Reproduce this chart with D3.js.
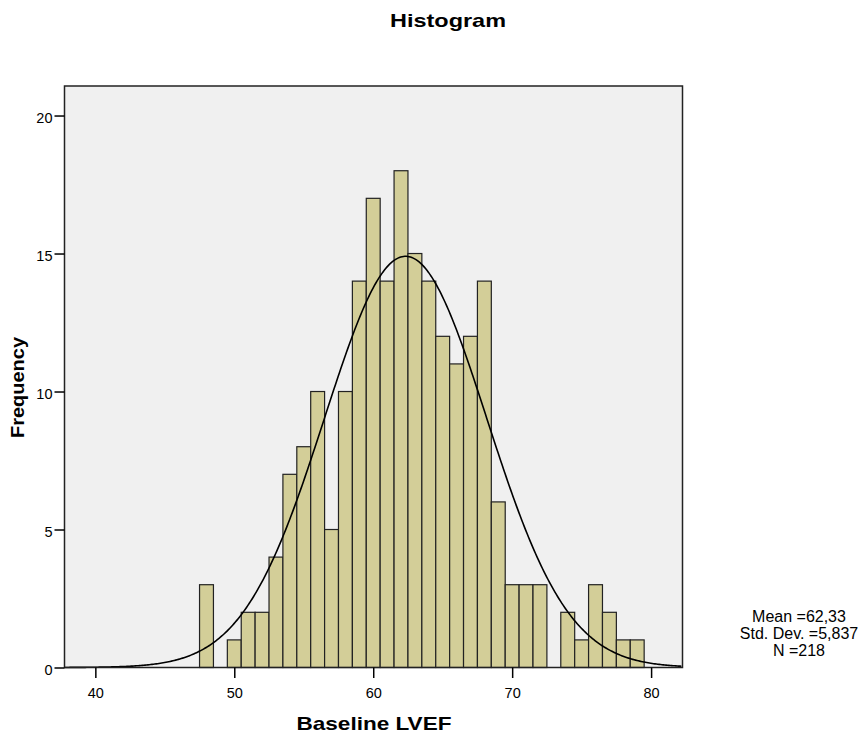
<!DOCTYPE html>
<html>
<head>
<meta charset="utf-8">
<script src="https://cdn.jsdelivr.net/npm/d3@7"></script>
<style>
  body { margin: 0; background: #fff; }
  svg text { font-family: "Liberation Sans", Arial, sans-serif; fill: #000; }
</style>
</head>
<body>
<div id="root"></div>
<script>
'use strict';

// bin centres (width 1) and counts
var binCenters = [48, 49, 50, 51, 52, 53, 54, 55, 56, 57, 58, 59, 60, 61, 62, 63, 64,
  65, 66, 67, 68, 69, 70, 71, 72, 73, 74, 75, 76, 77, 78, 79];
var counts = [3, 0, 1, 2, 2, 4, 7, 8, 10, 5, 10, 14, 17, 14, 18, 15, 14,
  12, 11, 12, 14, 6, 3, 3, 3, 0, 2, 1, 3, 2, 1, 1];
var xTicks = [40, 50, 60, 70, 80];
var yTicks = [0, 5, 10, 15, 20];
var statLines = ['Mean =62,33', 'Std. Dev. =5,837', 'N =218'];
var mean = 62.33, sd = 5.837, n = 218, binWidth = 1;

var bins = binCenters.map(function (c, i) { return { c: c, n: counts[i] }; })
  .filter(function (d) { return d.n > 0; });

var svg = d3.select('#root').append('svg')
  .attr('width', 862)
  .attr('height', 735);

var x = d3.scaleLinear().domain([37.78, 82.26]).range([64.5, 682.5]);
var y = d3.scaleLinear().domain([0, 21.07]).range([667.5, 86]);

// plot background
svg.append('rect')
  .attr('x', x.range()[0])
  .attr('y', y.range()[1])
  .attr('width', x.range()[1] - x.range()[0])
  .attr('height', y.range()[0] - y.range()[1])
  .attr('fill', '#f0f0f0');

// bars
svg.selectAll('rect.bar')
  .data(bins)
  .enter().append('rect')
  .attr('class', 'bar')
  .attr('x', function (d) { return x(d.c - binWidth / 2); })
  .attr('y', function (d) { return y(d.n); })
  .attr('width', function (d) { return x(d.c + binWidth / 2) - x(d.c - binWidth / 2); })
  .attr('height', function (d) { return y(0) - y(d.n); })
  .attr('fill', '#d3ce98')
  .attr('stroke', '#222')
  .attr('stroke-width', 1.2);

// normal curve from the summary stats
var curveX = d3.range(x.domain()[0], x.domain()[1] + 0.01, 0.1);
var line = d3.line()
  .x(function (d) { return x(d); })
  .y(function (d) {
    var z = (d - mean) / sd;
    return y(n * binWidth / (sd * Math.sqrt(2 * Math.PI)) * Math.exp(-0.5 * z * z));
  });

svg.append('path')
  .datum(curveX)
  .attr('d', line)
  .attr('fill', 'none')
  .attr('stroke', '#000')
  .attr('stroke-width', 1.6);

// frame
svg.append('rect')
  .attr('x', x.range()[0])
  .attr('y', y.range()[1])
  .attr('width', x.range()[1] - x.range()[0])
  .attr('height', y.range()[0] - y.range()[1])
  .attr('fill', 'none')
  .attr('stroke', '#222')
  .attr('stroke-width', 1.5);

// axes
var xAxis = svg.append('g')
  .attr('transform', 'translate(0,' + y(0) + ')')
  .call(d3.axisBottom(x).tickValues(xTicks).tickSize(10.5).tickPadding(10));
var yAxis = svg.append('g')
  .attr('transform', 'translate(' + x.range()[0] + ',0)')
  .call(d3.axisLeft(y).tickValues(yTicks).tickSize(10).tickPadding(2));

[xAxis, yAxis].forEach(function (g) {
  g.select('.domain').remove();
  g.selectAll('line').attr('stroke', '#000').attr('stroke-width', 1.5);
  g.selectAll('text').style('font-size', '14.5px');
});
yAxis.selectAll('text').attr('dy', '0.5em');

// titles
svg.append('text')
  .attr('x', 448)
  .attr('y', 27)
  .attr('text-anchor', 'middle')
  .attr('textLength', 116)
  .attr('lengthAdjust', 'spacingAndGlyphs')
  .style('font-size', '19px')
  .style('font-weight', 'bold')
  .text('Histogram');

svg.append('text')
  .attr('x', 374)
  .attr('y', 730)
  .attr('text-anchor', 'middle')
  .attr('textLength', 155)
  .attr('lengthAdjust', 'spacingAndGlyphs')
  .style('font-size', '19px')
  .style('font-weight', 'bold')
  .text('Baseline LVEF');

svg.append('text')
  .attr('transform', 'translate(24,387.5) rotate(-90)')
  .attr('text-anchor', 'middle')
  .attr('textLength', 101)
  .attr('lengthAdjust', 'spacingAndGlyphs')
  .style('font-size', '18px')
  .style('font-weight', 'bold')
  .text('Frequency');

// stats box
svg.selectAll('text.stat')
  .data(statLines)
  .enter().append('text')
  .attr('class', 'stat')
  .attr('x', 799)
  .attr('y', function (d, i) { return 621.5 + i * 17; })
  .attr('text-anchor', 'middle')
  .style('font-size', '16px')
  .text(function (d) { return d; });
</script>
</body>
</html>
